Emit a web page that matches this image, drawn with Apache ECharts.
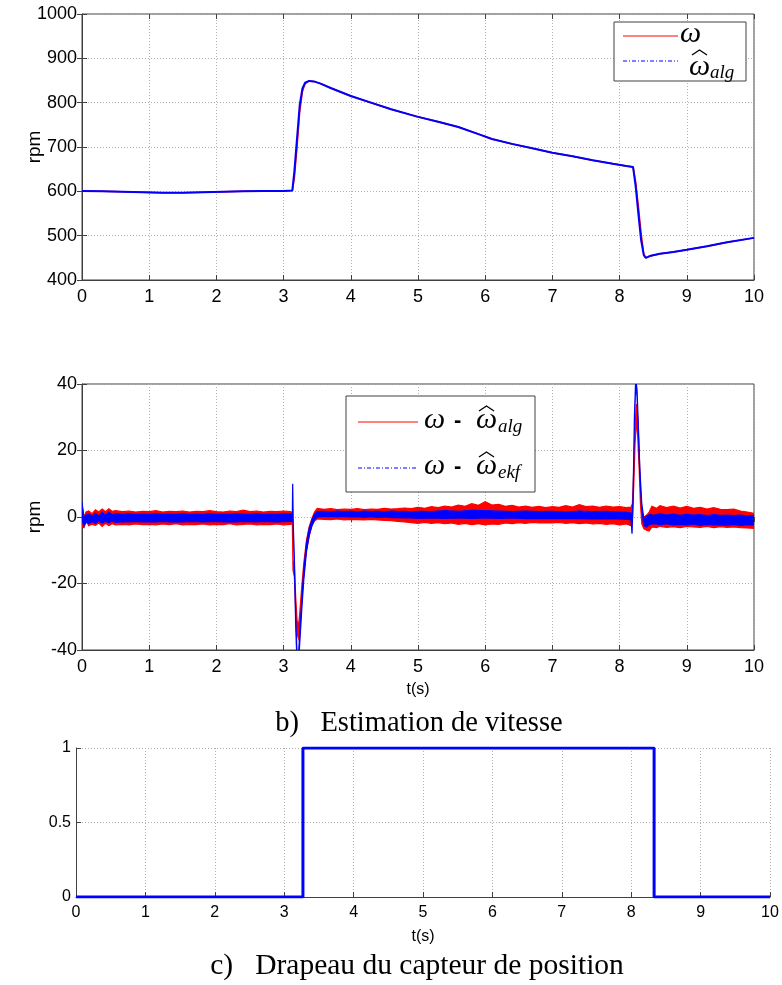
<!DOCTYPE html>
<html><head><meta charset="utf-8">
<script src="https://cdn.jsdelivr.net/npm/echarts/dist/echarts.min.js"></script>
<style>html,body{margin:0;padding:0;background:#fff}#c{width:782px;height:985px}</style>
</head><body><div id="c"></div>
<script>
// ---------- DATA ----------
// (a) speed (rpm) vs time (s)
const speedT = [0,0.3,0.6,0.9,1.2,1.5,1.8,2.1,2.4,2.7, 3.0,3.13,3.16,3.2,3.24,3.28,3.32,3.38,3.45,3.55, 3.7,3.85,4.0,4.3,4.6,5.0,5.3,5.6,5.9,6.1, 6.4,6.7,7.0,7.3,7.6,7.9,8.1,8.2,8.24,8.28, 8.32,8.36,8.39,8.45,8.6,8.8,9.0,9.3,9.6,10.0];
const omega    = [601,600,599,598,597,597,598,599,600,601, 601,602,630,700,780,825,843,849,848,843, 833,824,815,800,785,768,757,745,729,718, 707,697,687,679,670,662,657,655,620,565, 505,458,450,454,459,463,468,476,485,495];
const omegaAlg = [601,600,599,598,597,597,598,599,600,601, 601,602,645,720,795,832,845,849,848,843, 833,824,815,800,785,768,757,745,729,718, 707,697,687,679,670,662,657,655,610,548, 490,456,450,454,459,463,468,476,485,495];

// (b) estimation errors: noise envelope [t, upper, lower]
const errAlgBand = [
 [0,3.5,-3],[0.03,0,-3.2],[0.06,1.5,-1],[0.1,1.8,-2.6],[0.15,1,-2.2],[0.2,2.2,-2.5],[0.25,1.5,-1.8],[0.3,2.4,-2.8],[0.35,1.6,-1.9],[0.4,2.5,-2.6],[0.45,1.7,-2],[0.5,1.9,-2.4],
 [0.6,1.6,-2.2],[0.7,1.8,-2.4],[0.8,1.5,-2.1],[0.9,1.7,-2.3],[1.0,1.6,-2.2],[1.1,1.9,-2.4],[1.2,1.5,-2.1],[1.3,1.7,-2.3],[1.4,1.6,-2.0],[1.5,1.8,-2.4],[1.6,1.5,-2.2],[1.7,1.7,-2.3],
 [1.8,1.6,-2.1],[1.9,1.9,-2.4],[2.0,1.6,-2.2],[2.1,1.5,-2.3],[2.2,1.8,-2.0],[2.3,1.6,-2.4],[2.4,2.1,-2.2],[2.5,1.6,-2.1],[2.6,1.8,-2.4],[2.7,1.5,-2.2],[2.8,1.7,-2.3],[2.9,1.6,-2.1],
 [3.0,1.8,-2.4],[3.1,1.6,-2.2],[3.13,1.4,-2.0],
 [3.14,-13,-16],[3.16,-15,-18],[3.18,-24,-28],[3.2,-31,-35],[3.22,-33,-36.5],[3.24,-29,-33],[3.27,-21,-25],[3.3,-14,-17],[3.34,-7,-10],[3.38,-3,-6],[3.42,-0.5,-2.5],[3.46,1.5,-1.2],[3.5,2.6,-0.6],
 [3.6,2.3,-0.7],[3.7,2.5,-0.8],[3.8,2.2,-0.6],[3.9,2.4,-0.9],[4.0,2.3,-0.7],[4.1,2.5,-0.8],[4.2,2.2,-0.9],[4.3,2.4,-0.7],[4.4,2.3,-0.9],[4.5,2.6,-1.0],[4.6,2.4,-1.1],[4.7,2.5,-1.3],
 [4.8,2.7,-1.5],[4.9,2.5,-1.7],[5.0,2.9,-1.9],[5.1,2.6,-1.6],[5.2,3.1,-1.9],[5.3,2.8,-1.7],[5.4,3.3,-2.0],[5.5,3.0,-1.8],[5.6,3.6,-2.2],[5.7,3.2,-1.9],[5.8,4.0,-2.3],[5.9,3.5,-2.0],
 [6.0,4.6,-2.4],[6.1,3.6,-2.1],[6.2,3.8,-2.2],[6.3,3.2,-1.8],[6.4,3.5,-2.0],[6.5,3.0,-1.7],[6.6,3.3,-1.9],[6.7,2.9,-1.6],[6.8,3.2,-1.8],[6.9,2.8,-1.7],[7.0,3.1,-1.8],[7.1,2.9,-1.6],
 [7.2,3.4,-1.9],[7.3,3.0,-1.7],[7.4,3.7,-2.0],[7.5,3.1,-1.8],[7.6,3.3,-2.1],[7.7,2.9,-1.9],[7.8,3.3,-2.2],[7.9,3.0,-2.0],[8.0,3.1,-2.4],[8.1,2.8,-2.1],[8.17,3.0,-2.6],
 [8.19,4,-1],[8.21,14,9],[8.23,27,22],[8.25,34,29],[8.27,30,24],[8.29,20,15],[8.31,9,4],[8.33,2,-2],[8.36,0,-3.5],[8.4,0.5,-4],[8.44,1.5,-4.2],[8.48,3.2,-3],
 [8.55,2.6,-3.2],[8.6,3.4,-2.8],[8.7,2.8,-3.1],[8.8,3.3,-2.9],[8.9,2.7,-3.2],[9.0,3.2,-2.8],[9.1,2.6,-3.0],[9.2,2.9,-3.1],[9.3,2.4,-2.8],[9.4,2.8,-3.2],[9.5,2.3,-2.9],[9.6,2.2,-3.1],
 [9.7,2.4,-3.0],[9.8,1.8,-3.2],[9.9,1.5,-3.3],[10.0,1.1,-3.4]
];
const errEkfBand = [
 [0,4.5,-1.0],[0.03,-0.5,-2.8],[0.06,0.6,-1.6],[0.1,0.9,-2.0],[0.15,0.2,-1.4],[0.2,1.2,-1.9],[0.25,0.3,-1.2],[0.3,1.4,-1.8],[0.35,0.5,-1.3],[0.4,1.5,-1.7],[0.45,0.6,-1.2],[0.5,1.0,-1.6],
 [0.6,0.8,-1.4],[0.7,1.0,-1.5],[0.8,0.8,-1.3],[0.9,0.9,-1.5],[1.0,0.8,-1.4],[1.1,1.0,-1.5],[1.2,0.8,-1.3],[1.3,0.9,-1.5],[1.4,0.8,-1.4],[1.5,1.0,-1.5],[1.6,0.8,-1.3],[1.7,0.9,-1.4],
 [1.8,0.8,-1.5],[1.9,1.0,-1.4],[2.0,0.8,-1.3],[2.1,0.9,-1.5],[2.2,0.8,-1.4],[2.3,1.0,-1.5],[2.4,0.9,-1.3],[2.5,0.8,-1.4],[2.6,1.0,-1.5],[2.7,0.8,-1.3],[2.8,0.9,-1.4],[2.9,0.8,-1.5],
 [3.0,1.0,-1.4],[3.1,0.9,-1.3],[3.13,0.8,-1.3],
 [3.135,10,8.5],[3.145,-3,-5],[3.16,-12,-14],[3.18,-30,-33],[3.2,-41,-44],[3.22,-42,-45],[3.24,-35,-38],[3.27,-25,-28],[3.3,-16,-19],[3.34,-8,-10.5],[3.38,-3.5,-5.5],[3.42,-1,-2.8],[3.46,0.8,-0.8],[3.5,1.6,0.0],
 [3.6,1.7,0.1],[3.7,1.5,0.2],[3.8,1.8,0.0],[3.9,1.6,0.2],[4.0,1.7,0.0],[4.1,1.5,0.1],[4.2,1.8,-0.1],[4.3,1.6,0.1],[4.4,1.7,-0.1],[4.5,1.5,0.0],[4.6,1.8,-0.2],[4.7,1.6,-0.2],
 [4.8,1.7,-0.3],[4.9,1.5,-0.3],[5.0,1.7,-0.4],[5.2,1.6,-0.3],[5.4,1.9,-0.4],[5.6,1.7,-0.3],[5.8,2.0,-0.4],[6.0,1.9,-0.3],[6.2,1.8,-0.4],[6.4,1.6,-0.3],[6.6,1.8,-0.5],[6.8,1.6,-0.4],
 [7.0,1.7,-0.5],[7.2,1.5,-0.4],[7.4,1.8,-0.5],[7.6,1.6,-0.6],[7.8,1.7,-0.5],[8.0,1.5,-0.6],[8.1,1.4,-0.7],[8.17,1.2,-0.8],
 [8.185,-3,-5],[8.2,6,4],[8.22,30,28],[8.24,42,40],[8.26,38,36],[8.28,27,25],[8.3,15,13],[8.33,4,2],[8.36,-0.5,-2.5],[8.4,0.2,-3],[8.45,0.8,-2.2],[8.5,0.5,-2.0],
 [8.55,0.7,-2.1],[8.6,1.0,-2.3],[8.7,0.6,-2.0],[8.8,0.9,-2.4],[8.9,0.5,-2.2],[9.0,0.8,-2.4],[9.1,0.6,-2.1],[9.2,0.7,-2.5],[9.3,0.4,-2.2],[9.4,0.7,-2.4],[9.5,0.5,-2.3],[9.6,0.6,-2.5],
 [9.7,0.4,-2.2],[9.8,0.6,-2.5],[9.9,0.3,-2.3],[10.0,0.5,-2.4]
];

// (c) position-sensor flag
const flagT = [0, 3.27, 3.27, 8.33, 8.33, 10];
const flagV = [0, 0, 1, 1, 0, 0];

// axis ranges / ticks
const xRange = {min: 0, max: 10, interval: 1};
const yRangeA = {min: 400, max: 1000, interval: 100};
const yRangeB = {min: -40, max: 40, interval: 20};
const yRangeC = {min: 0, max: 1, interval: 0.5};

const captionB = 'b)   Estimation de vitesse';
const captionC = 'c)   Drapeau du capteur de position';

// ---------- CHART ----------
const RED = '#ff0000', BLUE = '#0000ff', AX = '#404040';
const SANS = '"Liberation Sans", Arial, sans-serif';
const SERIF = '"Liberation Serif", "Times New Roman", serif';

const zip = (a, b) => a.map((v, i) => [v, b[i]]);
const plain = v => String(v);

function mainX(gi, fs, name) {
  return Object.assign({type: 'value', gridIndex: gi, position: 'bottom'}, xRange, {
    axisLine: {show: true, onZero: false, lineStyle: {color: AX}},
    axisTick: {show: true, inside: true, length: 5, lineStyle: {color: AX}},
    axisLabel: {color: '#000', fontSize: fs, fontFamily: SANS, margin: 8, formatter: plain},
    splitLine: {show: true, lineStyle: {type: [1, 2], color: '#b0b0b0'}},
    name: name || '', nameLocation: 'middle', nameGap: 32, nameMoveOverlap: false,
    nameTextStyle: {color: '#000', fontSize: 16, fontFamily: SANS}
  });
}
function mirrorX(gi) {
  return Object.assign({type: 'value', gridIndex: gi, position: 'top'}, xRange, {
    axisLine: {show: false}, axisTick: {show: true, inside: true, length: 5, lineStyle: {color: AX}},
    axisLabel: {show: false}, splitLine: {show: false}
  });
}
function mainY(gi, range, fs, name) {
  return Object.assign({type: 'value', gridIndex: gi, position: 'left'}, range, {
    axisLine: {show: true, onZero: false, lineStyle: {color: AX}},
    axisTick: {show: true, inside: true, length: 5, lineStyle: {color: AX}},
    axisLabel: {color: '#000', fontSize: fs, fontFamily: SANS, margin: 5, formatter: plain},
    splitLine: {show: true, lineStyle: {type: [1, 2], color: '#b0b0b0'}},
    name: name || '', nameLocation: 'middle', nameGap: 38, nameMoveOverlap: false,
    nameTextStyle: {color: '#000', fontSize: 19, fontFamily: SANS}
  });
}
function mirrorY(gi, range) {
  return Object.assign({type: 'value', gridIndex: gi, position: 'right'}, range, {
    axisLine: {show: false}, axisTick: {show: true, inside: true, length: 5, lineStyle: {color: AX}},
    axisLabel: {show: false}, splitLine: {show: false}
  });
}
function bandSeries(band, color, xi, yi) {
  return {
    type: 'custom', xAxisIndex: xi, yAxisIndex: yi, silent: true, z: 3,
    data: [[band[0][0], band[0][1]]], encode: {x: 0, y: 1},
    renderItem: function (params, api) {
      const pts = [];
      for (let i = 0; i < band.length; i++) pts.push(api.coord([band[i][0], band[i][1]]));
      for (let i = band.length - 1; i >= 0; i--) pts.push(api.coord([band[i][0], band[i][2]]));
      const cs = params.coordSys;
      return {
        type: 'group',
        clipPath: {type: 'rect', shape: {x: cs.x, y: cs.y, width: cs.width, height: cs.height}},
        children: [{type: 'polygon', shape: {points: pts}, style: {fill: color, stroke: color, lineWidth: 1.2}}]
      };
    }
  };
}

// legend / caption graphics
function txt(x, y, s, font, extra) {
  return Object.assign({type: 'text', x: x, y: y, silent: true, z: 11,
    style: Object.assign({text: s, font: font, fill: '#000', verticalAlign: 'middle', align: 'left'}, extra || {})});
}
function hat(x, y, w) {
  return {type: 'polyline', silent: true, z: 11, shape: {points: [[x, y + 5], [x + w / 2, y], [x + w, y + 5]]},
    style: {stroke: '#000', lineWidth: 1.3, fill: null}};
}
const W = 'italic 30px ' + SERIF, SUB = 'italic 19px ' + SERIF, DASH = 'bold 22px ' + SANS;
const graphics = [
  // top legend
  {type: 'rect', z: 10, shape: {x: 614, y: 22, width: 132, height: 59}, style: {fill: '#fff', stroke: AX, lineWidth: 1}},
  {type: 'line', z: 11, shape: {x1: 623, y1: 36, x2: 678, y2: 36}, style: {stroke: RED, lineWidth: 1}},
  txt(680, 34, 'ω', W),
  {type: 'line', z: 11, shape: {x1: 623, y1: 61, x2: 678, y2: 61}, style: {stroke: BLUE, lineWidth: 1, lineDash: [4, 2, 1, 2]}},
  txt(689, 67, 'ω', W),
  hat(692, 50, 15),
  txt(710, 73, 'alg', SUB),
  // middle legend
  {type: 'rect', z: 10, shape: {x: 346, y: 396, width: 189, height: 96}, style: {fill: '#fff', stroke: AX, lineWidth: 1}},
  {type: 'line', z: 11, shape: {x1: 358, y1: 422, x2: 418, y2: 422}, style: {stroke: RED, lineWidth: 1}},
  txt(424, 420, 'ω', W),
  txt(454, 421, '-', DASH),
  txt(476, 420, 'ω', W),
  hat(479, 406, 15),
  txt(498, 427, 'alg', SUB),
  {type: 'line', z: 11, shape: {x1: 358, y1: 468, x2: 418, y2: 468}, style: {stroke: BLUE, lineWidth: 1, lineDash: [4, 2, 1, 2]}},
  txt(424, 466, 'ω', W),
  txt(454, 467, '-', DASH),
  txt(476, 466, 'ω', W),
  hat(479, 452, 15),
  txt(498, 473, 'ekf', SUB),
  // captions
  txt(419, 724, captionB, '28.5px ' + SERIF, {align: 'center'}),
  txt(417, 966, captionC, '29.5px ' + SERIF, {align: 'center'})
];

const option = {
  animation: false,
  backgroundColor: '#fff',
  grid: [
    {left: 82, right: 28, top: 14, height: 266, show: true, borderColor: AX, borderWidth: 1, containLabel: false},
    {left: 82, right: 28, top: 384, height: 266, show: true, borderColor: AX, borderWidth: 1, containLabel: false},
    {left: 76, right: 12, top: 748, height: 149, containLabel: false}
  ],
  xAxis: [mainX(0, 18), mirrorX(0), mainX(1, 18, 't(s)'), mirrorX(1), mainX(2, 16, 't(s)')],
  yAxis: [mainY(0, yRangeA, 18, 'rpm'), mirrorY(0, yRangeA), mainY(1, yRangeB, 18, 'rpm'), mirrorY(1, yRangeB), mainY(2, yRangeC, 16)],
  series: [
    {type: 'line', xAxisIndex: 0, yAxisIndex: 0, data: zip(speedT, omega), showSymbol: false, lineStyle: {color: RED, width: 1.5}, z: 3},
    {type: 'line', xAxisIndex: 0, yAxisIndex: 0, data: zip(speedT, omegaAlg), showSymbol: false, lineStyle: {color: BLUE, width: 2}, z: 4},
    bandSeries(errAlgBand, RED, 2, 2),
    bandSeries(errEkfBand, BLUE, 2, 2),
    {type: 'line', xAxisIndex: 4, yAxisIndex: 4, data: zip(flagT, flagV), showSymbol: false, lineStyle: {color: BLUE, width: 3}, z: 3}
  ],
  graphic: graphics
};
const chart = echarts.init(document.getElementById('c'), null, {renderer: 'canvas'});
chart.setOption(option);
</script></body></html>
